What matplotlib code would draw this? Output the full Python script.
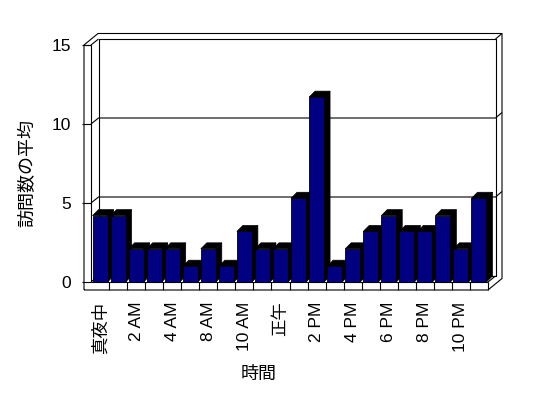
import matplotlib
matplotlib.use("Agg")
import matplotlib.pyplot as plt
from matplotlib.patches import Polygon

plt.rcParams['font.family'] = ['Liberation Sans', 'Noto Sans CJK JP']

# 時間帯ごとの訪問数の平均
hours = list(range(22))
visits = [4.2, 4.2, 2.1, 2.1, 2.1, 1.0, 2.1, 1.0, 3.2, 2.1, 2.1,
          5.3, 11.7, 1.0, 2.1, 3.2, 4.2, 3.2, 3.2, 4.2, 2.1, 5.3]
tick_pos = [0, 2, 4, 6, 8, 10, 12, 14, 16, 18, 20]
tick_labels = ['真夜中', '2 AM', '4 AM', '8 AM', '10 AM', '正午',
               '2 PM', '4 PM', '6 PM', '8 PM', '10 PM']
y_ticks = [0, 5, 10, 15]

W, H = 548, 398
fig = plt.figure(figsize=(W / 100, H / 100), dpi=100)
ax_l, ax_r, ax_t, ax_b = 91, 488, 45, 282
ax = fig.add_axes([ax_l / W, (H - ax_b) / H, (ax_r - ax_l) / W, (ax_b - ax_t) / H])

X0, X1 = -0.5, len(hours) - 0.5
Y0, Y1 = 0, 15
ax.set_xlim(X0, X1)
ax.set_ylim(Y0, Y1)

# pixel -> data
sx = (X1 - X0) / (ax_r - ax_l)
sy = (Y1 - Y0) / (ax_b - ax_t)


def pt(x, y, dx=0.0, dy=0.0):
    return (x + dx * sx, y + dy * sy)


D = (7.5, 6.0)     # 奥行き
T = (6.5, 5.5)     # 壁の厚さ
wall = 7           # 左壁
floor = 8          # 床
B = (6.0, 6.0)     # 棒の奥行き
lw = 0.8
navy = '#000080'


def line(pts, **kw):
    xs, ys = zip(*pts)
    ax.plot(xs, ys, color='black', lw=lw, clip_on=False, solid_capstyle='butt', **kw)


# 外枠
DT = (D[0] + T[0], D[1] + T[1])
outline = [pt(X0, Y0, -wall, -floor), pt(X0, Y1, -wall, 0),
           pt(X0, Y1, -wall + DT[0], DT[1]), pt(X1, Y1, DT[0], DT[1]),
           pt(X1, Y0, DT[0], -floor + DT[1]), pt(X1, Y0, 0, -floor),
           pt(X0, Y0, -wall, -floor)]
line(outline)

# 左壁
line([pt(X0, Y1, -wall, 0), pt(X0, Y1)])
line([pt(X0, Y1), pt(X0, Y0)])
line([pt(X0, Y1), pt(X0, Y1, *D)])
# 奥の壁
line([pt(X0, Y1, *D), pt(X1, Y1, *D), pt(X1, Y0, *D), pt(X0, Y0, *D), pt(X0, Y1, *D)])
line([pt(X1, Y1, *D), pt(X1, Y1, DT[0], DT[1])])
# 床
line([pt(X0, Y0), pt(X1, Y0)])
line([pt(X1, Y0), pt(X1, Y0, *D)])
line([pt(X0, Y0), pt(X0, Y0, *D)])
for k in range(1, len(hours) + 1):
    line([pt(k - 0.5, Y0), pt(k - 0.5, Y0, 0, -floor)])

# 目盛線
for v in y_ticks[1:-1]:
    line([pt(X0, v), pt(X0, v, *D), pt(X1, v, *D), pt(X1, v, DT[0], DT[1])])

# 棒
bw = 0.83
for i, v in zip(hours, visits):
    xl, xr = i - bw / 2, i + bw / 2
    side = [pt(xr, 0), pt(xr, v), pt(xr, v, *B), pt(xr, 0, *B)]
    top = [pt(xl, v), pt(xr, v), pt(xr, v, *B), pt(xl, v, *B)]
    ax.add_patch(Polygon(side, closed=True, fc='black', ec='black', lw=0.5, clip_on=False, zorder=3))
    ax.add_patch(Polygon(top, closed=True, fc='black', ec='black', lw=0.5, clip_on=False, zorder=3))
    ax.add_patch(Polygon([pt(xl, 0), pt(xr, 0), pt(xr, v), pt(xl, v)], closed=True,
                         fc=navy, ec='black', lw=0.6, clip_on=False, zorder=3))

for s in ax.spines.values():
    s.set_visible(False)
ax.patch.set_visible(False)

ax.set_yticks(y_ticks)
ax.set_yticklabels([str(v) for v in y_ticks], fontsize=12.5)
ax.tick_params(axis='y', length=6.5, width=lw, pad=8, direction='out')
ax.set_xticks(tick_pos)
ax.set_xticklabels(tick_labels, rotation=90, fontsize=12.5)
ax.tick_params(axis='x', length=0, pad=14)

fig.text(259 / W, 1 - 374 / H, '時間', ha='center', va='center', fontsize=13)
fig.text(27.5 / W, 1 - 173 / H, '訪問数の平均', ha='center', va='center',
         rotation=90, fontsize=13)

fig.savefig('out.png', dpi=100, facecolor='white')
